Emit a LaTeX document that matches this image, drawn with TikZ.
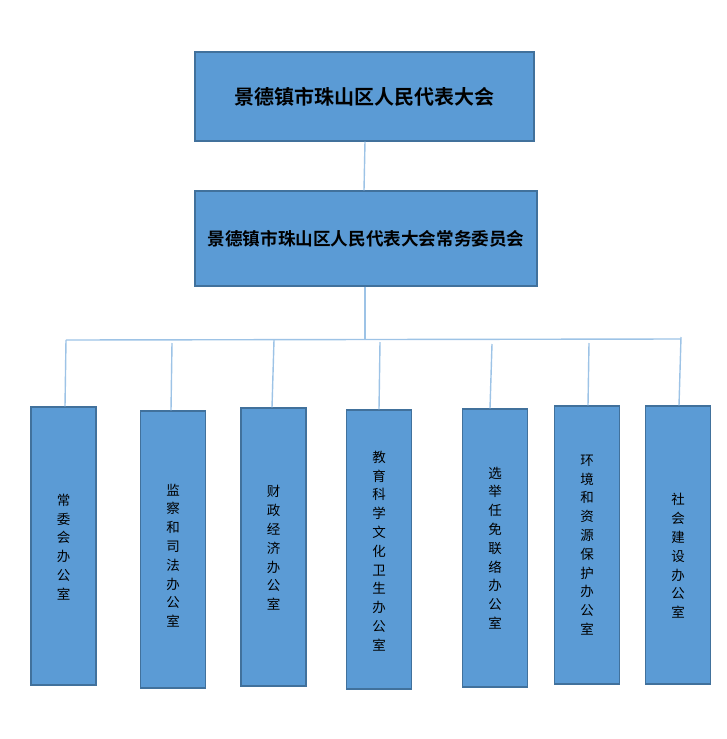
\documentclass[tikz,border=0pt]{standalone}
\usepackage{fontspec}
\newfontfamily\cjk{Noto Sans CJK SC}
\newfontfamily\cjkbold{Noto Sans CJK SC Bold}
\definecolor{boxfill}{HTML}{5B9BD5}
\definecolor{boxline}{HTML}{41719C}
\definecolor{conn}{HTML}{9DC3E6}
\begin{document}
\begin{tikzpicture}[x=1pt,y=-1pt,
  box/.style={draw=boxline, fill=boxfill, line width=1.1pt, inner sep=0pt, align=center, text=black},
  topbox/.style={box, font=\cjkbold\fontsize{20}{24}\selectfont},
  midbox/.style={box, font=\cjkbold\fontsize{17.6}{22}\selectfont},
  office/.style={box, minimum width=65},
  officetext/.style={align=center, text=black, inner sep=0pt, font=\cjk\fontsize{13.5}{18.8}\selectfont},
  conline/.style={draw=conn, line width=1.4pt}]
\useasboundingbox (0,0) rectangle (727,739);
\node[topbox, minimum width=339, minimum height=89] (npc) at (364.5,96.5) {景德镇市珠山区人民代表大会};
\node[midbox, minimum width=342, minimum height=95] (sc) at (366,238.5) {景德镇市珠山区人民代表大会常务委员会};
\node[office, minimum height=278, label={[officetext, yshift=-1pt]center:常\\委\\会\\办\\公\\室}] (o1) at (63.5,546) {};
\node[office, minimum height=277, label={[officetext, yshift=-6pt]center:监\\察\\和\\司\\法\\办\\公\\室}] (o2) at (173,549.5) {};
\node[office, minimum height=278, label={[officetext, yshift=-1pt]center:财\\政\\经\\济\\办\\公\\室}] (o3) at (273.5,547) {};
\node[office, minimum height=279, label={[officetext, yshift=-1.5pt]center:教\\育\\科\\学\\文\\化\\卫\\生\\办\\公\\室}] (o4) at (379,549.5) {};
\node[office, minimum height=278, label={[officetext]center:选\\举\\任\\免\\联\\络\\办\\公\\室}] (o5) at (495,548) {};
\node[office, minimum height=278, label={[officetext]center:环\\境\\和\\资\\源\\保\\护\\办\\公\\室}] (o6) at (587,545) {};
\node[office, minimum height=278, label={[officetext, yshift=-11pt]center:社\\会\\建\\设\\办\\公\\室}] (o7) at (678,545) {};
\coordinate (busL) at (66,340);
\coordinate (busM) at (365,339.5);
\coordinate (busR) at (681,339);
\coordinate (t2) at (172,343);
\coordinate (t3) at (274,340);
\coordinate (t4) at (380,342);
\coordinate (t5) at (492,344);
\coordinate (t6) at (589,343);
\coordinate (t7) at (681,337);
\draw[conline] ([xshift=0.5]npc.south) -- ([xshift=-2]sc.north);
\draw[conline] ([xshift=-1]sc.south) -- (busM);
\draw[conline] (busL) -- (busR);
\draw[conline] (busL) -- ([xshift=1.5]o1.north);
\draw[conline] (t2) -- ([xshift=-2]o2.north);
\draw[conline] (t3) -- ([xshift=-1.5]o3.north);
\draw[conline] (t4) -- (o4.north);
\draw[conline] (t5) -- ([xshift=-5]o5.north);
\draw[conline] (t6) -- ([xshift=1]o6.north);
\draw[conline] (t7) -- ([xshift=1]o7.north);
\end{tikzpicture}
\end{document}
